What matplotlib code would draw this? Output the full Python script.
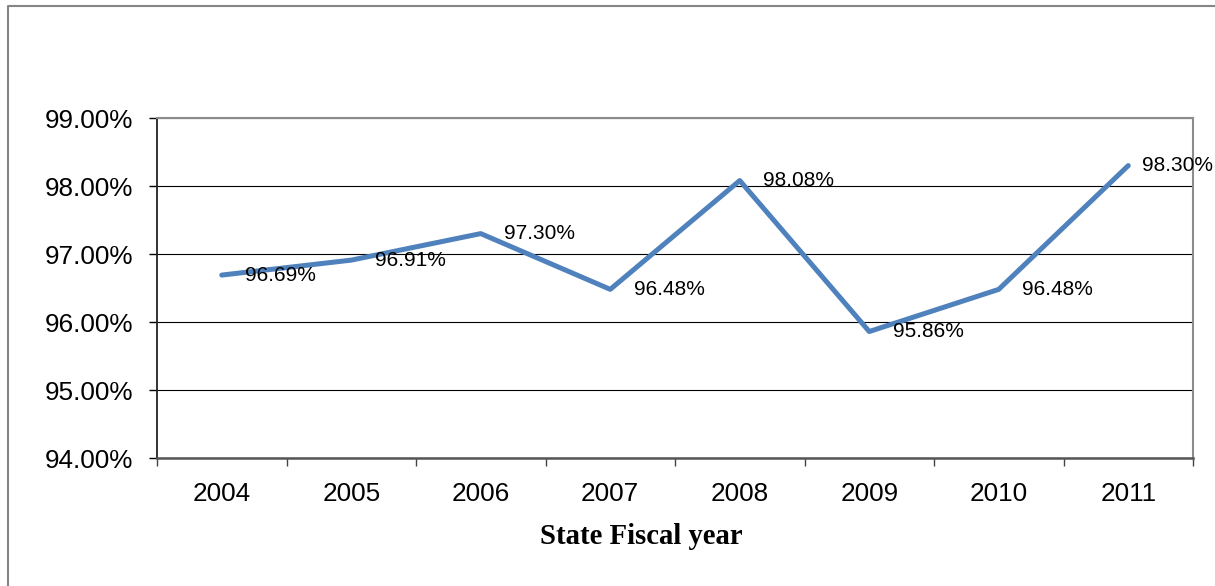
import matplotlib
matplotlib.use("Agg")
import matplotlib.pyplot as plt
from matplotlib.lines import Line2D
from matplotlib.ticker import FuncFormatter

# Fiscal years and their rates (percent)
years = ["2004", "2005", "2006", "2007", "2008", "2009", "2010", "2011"]
rates = [96.69, 96.91, 97.30, 96.48, 98.08, 95.86, 96.48, 98.30]
# horizontal nudge of each value label, in points
label_dx = [17, 17, 17, 17, 17, 17, 17, 10]

plt.rcParams['font.family'] = ['Liberation Sans', 'DejaVu Sans']

fig = plt.figure(figsize=(12.15, 5.86), dpi=100)
W, H = 1215.0, 586.0
ax = fig.add_axes([157 / W, 1 - 458 / H, (1193 - 157) / W, (458 - 118) / H])

x = list(range(len(years)))
ax.plot(x, rates, color='#4f81bd', lw=3.6, solid_joinstyle='round',
        solid_capstyle='round', zorder=3)

for xi, v, dx in zip(x, rates, label_dx):
    ax.annotate("%.2f%%" % v, (xi, v), xytext=(dx, 0), textcoords='offset points',
                ha='left', va='center', fontsize=15, color='black', zorder=4)

ax.set_ylim(94, 99)
ax.set_yticks([94, 95, 96, 97, 98, 99])
ax.yaxis.set_major_formatter(FuncFormatter(lambda v, p: "%.2f%%" % v))
ax.yaxis.grid(True, color='black', lw=0.8)
ax.set_axisbelow(True)

ax.set_xlim(-0.5, len(years) - 0.5)
ax.set_xticks(x)
ax.set_xticklabels(years)
ax.set_xticks([i - 0.5 for i in range(len(years) + 1)], minor=True)
ax.tick_params(axis='x', which='major', length=0, pad=17, labelsize=18.8)
ax.tick_params(axis='x', which='minor', length=6, width=1, color='#444444')
ax.tick_params(axis='y', length=6, width=1, pad=11, labelsize=18.8)

for side in ['top', 'right']:
    ax.spines[side].set_color('#8c8c8c')
    ax.spines[side].set_linewidth(1.5)
ax.spines['left'].set_color('#222222')
ax.spines['left'].set_linewidth(1.3)
ax.spines['bottom'].set_color('#555555')
ax.spines['bottom'].set_linewidth(1.8)

fig.text(641 / W, 1 - 537 / H, "State Fiscal year", ha='center', va='center',
         fontsize=20.7, fontweight='bold', family=['Liberation Serif', 'DejaVu Serif'])

# outer chart border (top and left edges)
fig.add_artist(Line2D([8 / W, 8 / W, 1.0], [0.0, 1 - 6 / H, 1 - 6 / H],
                      transform=fig.transFigure, color='#858585', lw=1.5))

fig.savefig("out.png", dpi=100)
